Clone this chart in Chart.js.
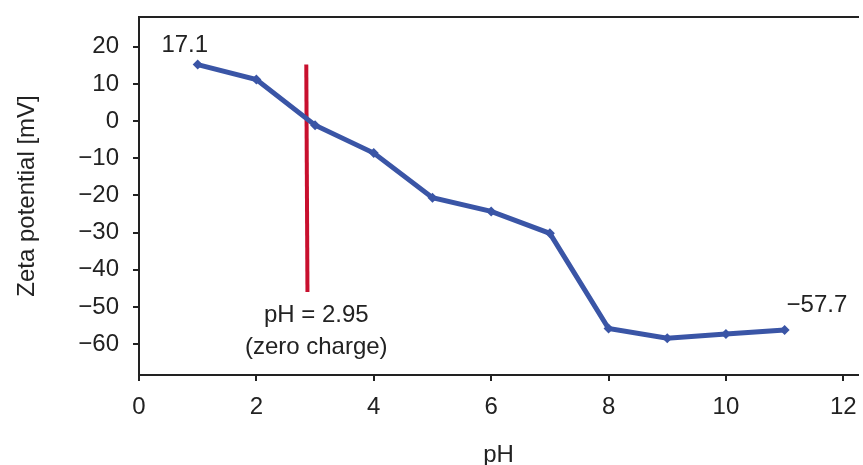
<!DOCTYPE html>
<html>
<head>
<meta charset="utf-8">
<script src="https://cdn.jsdelivr.net/npm/chart.js@4/dist/chart.umd.min.js"></script>
<style>
  html, body { margin: 0; padding: 0; background: #fff; }
  #wrap { width: 863px; height: 465px; }
</style>
</head>
<body>
<div id="wrap"><canvas id="zetaChart" width="863" height="465"></canvas></div>
<script>
// Zeta potential vs pH
const phValues = [1, 2, 3, 4, 5, 6, 7, 8, 9, 10, 11];
const zetaValues = [15.2, 11.2, -1.1, -8.6, -20.6, -24.3, -30.2, -55.8, -58.4, -57.3, -56.2];

// zero charge marker (vertical red line)
const zeroChargePh = [2.85, 2.87];
const zeroChargeZeta = [15.2, -46];

// text notes: [text, pH, zeta]
const notes = [
    ['17.1', 0.78, 20.5],
    ['\u221257.7', 11.55, -49.5],
    ['pH = 2.95', 3.02, -52.2],
    ['(zero charge)', 3.02, -60.8]
];

const xTicks = [0, 2, 4, 6, 8, 10, 12];
const yTicks = [-60, -50, -40, -30, -20, -10, 0, 10, 20];

const fontFamily = '"Liberation Sans", Arial, sans-serif';
const fontSize = 24;
const inkColor = '#222';

function toPoints(xs, ys) {
    return xs.map((x, i) => ({ x: x, y: ys[i] }));
}

const notesPlugin = {
    id: 'notes',
    afterDatasetsDraw(chart) {
        const { ctx, scales } = chart;
        ctx.save();
        ctx.fillStyle = inkColor;
        ctx.font = fontSize + 'px ' + fontFamily;
        ctx.textAlign = 'center';
        ctx.textBaseline = 'middle';
        notes.forEach(n => {
            ctx.fillText(n[0], scales.x.getPixelForValue(n[1]), scales.y.getPixelForValue(n[2]));
        });
        ctx.restore();
    }
};

const ctx = document.getElementById('zetaChart').getContext('2d');
const zetaChart = new Chart(ctx, {
    type: 'line',
    data: {
        datasets: [
            {
                label: 'Zeta potential',
                data: toPoints(phValues, zetaValues),
                borderColor: '#3a55a6',
                backgroundColor: '#3a55a6',
                borderWidth: 5,
                pointStyle: 'rectRot',
                pointRadius: 5,
                pointBorderWidth: 0,
                tension: 0
            },
            {
                label: 'Zero charge',
                data: toPoints(zeroChargePh, zeroChargeZeta),
                borderColor: '#c8102e',
                borderWidth: 4,
                pointRadius: 0
            }
        ]
    },
    options: {
        responsive: false,
        animation: false,
        layout: { padding: { top: 17, right: 0, left: 0, bottom: 0 } },
        plugins: {
            legend: { display: false },
            tooltip: { enabled: false }
        },
        scales: {
            x: {
                type: 'linear',
                min: 0,
                max: 12.25,
                afterBuildTicks: s => { s.ticks = xTicks.map(v => ({ value: v })); },
                afterFit: s => { s.height = 90; s.paddingLeft = 0; s.paddingRight = 0; },
                ticks: {
                    color: inkColor,
                    font: { family: fontFamily, size: fontSize },
                    padding: 12,
                    maxRotation: 0
                },
                grid: { drawOnChartArea: false, tickLength: 6, color: inkColor, lineWidth: 2 },
                border: { color: inkColor, width: 2 },
                title: {
                    display: true,
                    text: 'pH',
                    color: inkColor,
                    font: { family: fontFamily, size: fontSize },
                    padding: { top: 0, bottom: -5 }
                }
            },
            x2: {
                type: 'linear',
                position: 'top',
                min: 0,
                max: 12.25,
                afterFit: s => { s.paddingLeft = 0; s.paddingRight = 0; },
                ticks: { display: false },
                grid: { drawOnChartArea: false, drawTicks: false },
                border: { color: inkColor, width: 2 }
            },
            y: {
                type: 'linear',
                min: -68.3,
                max: 28,
                afterBuildTicks: s => { s.ticks = yTicks.map(v => ({ value: v })); },
                afterFit: s => { s.width = 139; s.paddingTop = 0; s.paddingBottom = 0; },
                ticks: {
                    color: inkColor,
                    font: { family: fontFamily, size: fontSize },
                    padding: 14,
                    callback: v => String(v).replace('-', '\u2212')
                },
                grid: { drawOnChartArea: false, tickLength: 6, color: inkColor, lineWidth: 2 },
                border: { color: inkColor, width: 2 },
                title: {
                    display: true,
                    text: 'Zeta potential [mV]',
                    color: inkColor,
                    font: { family: fontFamily, size: fontSize },
                    padding: { top: 13, bottom: 0 }
                }
            }
        }
    },
    plugins: [notesPlugin]
});
</script>
</body>
</html>
